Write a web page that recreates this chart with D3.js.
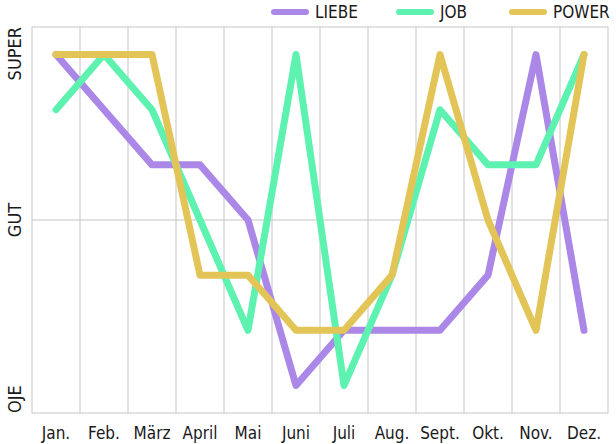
<!DOCTYPE html>
<html>
<head>
<meta charset="utf-8">
<script src="https://cdn.jsdelivr.net/npm/d3@7"></script>
<style>
  body { margin: 0; background: #fff; }
  text { font-family: "Liberation Sans Narrow", "DejaVu Sans Condensed", sans-serif; fill: #1a1a1a; }
</style>
</head>
<body>
<div id="chart"></div>
<script>
var months = ["Jan.", "Feb.", "März", "April", "Mai", "Juni", "Juli", "Aug.", "Sept.", "Okt.", "Nov.", "Dez."];
var liebe = [7, 6, 5, 5, 4, 1, 2, 2, 2, 3, 7, 2];
var job   = [6, 7, 6, 4, 2, 7, 1, 3, 6, 5, 5, 7];
var power = [7, 7, 7, 3, 3, 2, 2, 3, 7, 4, 2, 7];
var yLabels = ["OJE", "GUT", "SUPER"];
var yLabelValues = [0.5, 4, 7.5];

var series = [
  {name: "LIEBE", values: liebe, color: "#ab88e8"},
  {name: "JOB", values: job, color: "#5ef2b1"},
  {name: "POWER", values: power, color: "#e2c556"}
];

var width = 616, height = 444;
var margin = {top: 27, right: 8, bottom: 31, left: 32};

var svg = d3.select("#chart").append("svg")
  .attr("width", width)
  .attr("height", height);

var x = d3.scaleBand()
  .domain(months)
  .range([margin.left, width - margin.right]);

var y = d3.scaleLinear()
  .domain([0.5, 7.5])
  .range([height - margin.bottom, margin.top]);

var grid = svg.append("g");

// vertical grid lines at band edges
var edges = months.map(function(m) { return x(m); });
edges.push(width - margin.right);
grid.selectAll("line.v")
  .data(edges)
  .enter().append("line")
  .attr("x1", function(d) { return d; })
  .attr("x2", function(d) { return d; })
  .attr("y1", margin.top)
  .attr("y2", height - margin.bottom)
  .attr("stroke", "#c4c4c4")
  .attr("stroke-width", 1);

// horizontal lines: top, GUT, bottom
grid.selectAll("line.h")
  .data(yLabelValues)
  .enter().append("line")
  .attr("x1", margin.left)
  .attr("x2", width - margin.right)
  .attr("y1", function(d) { return y(d); })
  .attr("y2", function(d) { return y(d); })
  .attr("stroke", "#c4c4c4")
  .attr("stroke-width", 1);

// x labels
svg.append("g")
  .attr("transform", "translate(0," + (height - margin.bottom) + ")")
  .call(d3.axisBottom(x).tickSize(0).tickPadding(14))
  .call(function(g) { g.select(".domain").remove(); })
  .selectAll("text")
  .style("font-size", "17px")
  .style("font-family", "'Liberation Sans Narrow', 'DejaVu Sans Condensed', sans-serif")
  .attr("fill", "#1a1a1a");

// y labels (rotated)
var anchors = ["start", "middle", "end"];
svg.selectAll("text.ylab")
  .data(yLabelValues)
  .enter().append("text")
  .attr("class", "ylab")
  .attr("transform", function(d) { return "translate(21," + y(d) + ") rotate(-90)"; })
  .attr("text-anchor", function(d, i) { return anchors[i]; })
  .style("font-size", "18px")
  .text(function(d, i) { return yLabels[i]; });

var line = d3.line()
  .x(function(d, i) { return x(months[i]) + x.bandwidth() / 2; })
  .y(function(d) { return y(d); });

svg.selectAll("path.series")
  .data(series)
  .enter().append("path")
  .attr("class", "series")
  .attr("d", function(d) { return line(d.values); })
  .attr("fill", "none")
  .attr("stroke", function(d) { return d.color; })
  .attr("stroke-width", 7)
  .attr("stroke-linecap", "round")
  .attr("stroke-linejoin", "round");

// legend
var legendX = [274, 399, 512];
var legend = svg.selectAll("g.legend")
  .data(series)
  .enter().append("g")
  .attr("transform", function(d, i) { return "translate(" + legendX[i] + ",12)"; });

legend.append("line")
  .attr("x1", 0).attr("x2", 32)
  .attr("stroke", function(d) { return d.color; })
  .attr("stroke-width", 6)
  .attr("stroke-linecap", "round");

legend.append("text")
  .attr("x", 41)
  .attr("y", 6)
  .style("font-size", "17px")
  .text(function(d) { return d.name; });
</script>
</body>
</html>
